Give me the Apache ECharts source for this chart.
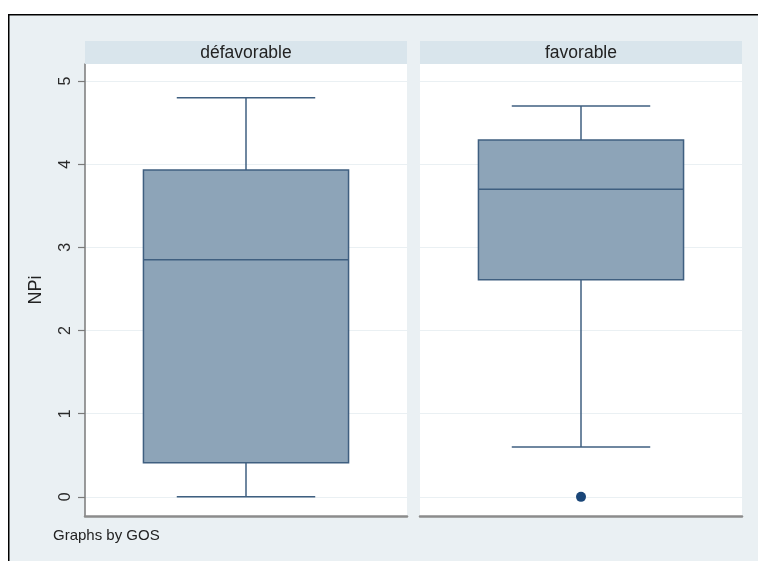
<!DOCTYPE html>
<html>
<head>
<meta charset="utf-8">
<script src="https://cdn.jsdelivr.net/npm/echarts@6/dist/echarts.min.js"></script>
<style>html,body{margin:0;padding:0;background:#fff;}#c{width:758px;height:561px;}</style>
</head>
<body>
<div id="c"></div>
<script>
// ---- data ----
const categories = ['défavorable', 'favorable'];
// [min whisker, Q1, median, Q3, max whisker]
const boxDefavorable = [0, 0.41, 2.85, 3.93, 4.80];
const boxFavorable = [0.60, 2.61, 3.70, 4.29, 4.70];
const outliersDefavorable = [];
const outliersFavorable = [0];
const yTicks = [0, 1, 2, 3, 4, 5];
const yTitle = 'NPi';
const note = 'Graphs by GOS';

const boxes = [boxDefavorable, boxFavorable];
const outliers = [outliersDefavorable, outliersFavorable];

const chart = echarts.init(document.getElementById('c'), null, {renderer: 'canvas'});

const FILL = '#8da4b8', STROKE = '#3f5f80', DOT = '#1a4678';
const panelLeft = [85, 420], panelWidth = 322;

function renderBox(params, api) {
  const c = api.value(0);
  const mn = api.value(1), q1 = api.value(2), md = api.value(3), q3 = api.value(4), mx = api.value(5);
  const band = api.size([1, 0])[0];
  const bw = band * 0.637, cw = band * 0.43;
  const pMin = api.coord([c, mn]), pQ1 = api.coord([c, q1]), pMd = api.coord([c, md]);
  const pQ3 = api.coord([c, q3]), pMx = api.coord([c, mx]);
  const x = pMd[0];
  const ls = {stroke: STROKE, lineWidth: 1.5};
  return {
    type: 'group',
    children: [
      {type: 'line', shape: {x1: x, y1: pMx[1], x2: x, y2: pQ3[1]}, style: ls},
      {type: 'line', shape: {x1: x, y1: pQ1[1], x2: x, y2: pMin[1]}, style: ls},
      {type: 'line', shape: {x1: x - cw / 2, y1: pMx[1], x2: x + cw / 2, y2: pMx[1]}, style: ls},
      {type: 'line', shape: {x1: x - cw / 2, y1: pMin[1], x2: x + cw / 2, y2: pMin[1]}, style: ls},
      {type: 'rect', shape: {x: x - bw / 2, y: pQ3[1], width: bw, height: pQ1[1] - pQ3[1]},
        style: {fill: FILL, stroke: STROKE, lineWidth: 1.5}},
      {type: 'line', shape: {x1: x - bw / 2, y1: pMd[1], x2: x + bw / 2, y2: pMd[1]}, style: ls}
    ]
  };
}

const grids = [], xAxes = [], yAxes = [], series = [], graphics = [];

graphics.push({type: 'rect', left: 8, top: 14, shape: {x: 0, y: 0, width: 760, height: 560},
  style: {fill: '#eaf0f3', stroke: '#000', lineWidth: 1.5}, z: -10});

categories.forEach((cat, i) => {
  grids.push({left: panelLeft[i], top: 64, width: panelWidth, height: 452,
    show: true, backgroundColor: '#fff', borderWidth: 0});
  xAxes.push({type: 'category', gridIndex: i, data: [cat],
    axisLine: {show: true, onZero: false, lineStyle: {color: '#8c8c8c', width: 2.5}},
    axisTick: {show: false}, axisLabel: {show: false}, splitLine: {show: false}});
  yAxes.push({type: 'value', gridIndex: i, min: -0.23, max: 5.205,
    name: i === 0 ? yTitle : '', nameLocation: 'middle', nameGap: 40,
    nameTextStyle: {fontSize: 18, color: '#222', fontFamily: 'Liberation Sans'},
    axisLine: {show: i === 0, lineStyle: {color: '#7a7a7a', width: 1.5}},
    axisTick: {show: i === 0, length: 7, customValues: yTicks, lineStyle: {color: '#7a7a7a', width: 1.2}},
    axisLabel: {show: i === 0, customValues: yTicks, rotate: 90, margin: 11, fontSize: 16,
      color: '#2a2a2a', fontFamily: 'Liberation Sans'},
    splitLine: {show: true, lineStyle: {color: '#eaf0f3', width: 1.2}}});
  const b = boxes[i];
  series.push({type: 'custom', xAxisIndex: i, yAxisIndex: i, renderItem: renderBox,
    encode: {x: 0, y: [1, 2, 3, 4, 5]},
    data: [[0, b[0], b[1], b[2], b[3], b[4]]], z: 3});
  series.push({type: 'scatter', xAxisIndex: i, yAxisIndex: i, symbolSize: 10,
    itemStyle: {color: DOT, opacity: 1}, data: outliers[i].map(v => [0, v]), z: 4});
  graphics.push({type: 'rect', left: panelLeft[i], top: 41, shape: {x: 0, y: 0, width: panelWidth, height: 23},
    style: {fill: '#d9e5ec'}, z: 1});
  graphics.push({type: 'text', x: panelLeft[i] + panelWidth / 2, y: 53,
    style: {text: cat, fill: '#222', font: '17.5px "Liberation Sans", Arial', align: 'center', verticalAlign: 'middle'}, z: 2});
});

graphics.push({type: 'text', x: 53, y: 536,
  style: {text: note, fill: '#222', font: '15px "Liberation Sans", Arial', align: 'left', verticalAlign: 'middle'}, z: 2});

chart.setOption({
  backgroundColor: '#fff',
  animation: false,
  graphic: graphics,
  grid: grids,
  xAxis: xAxes,
  yAxis: yAxes,
  series: series
});
</script>
</body>
</html>
